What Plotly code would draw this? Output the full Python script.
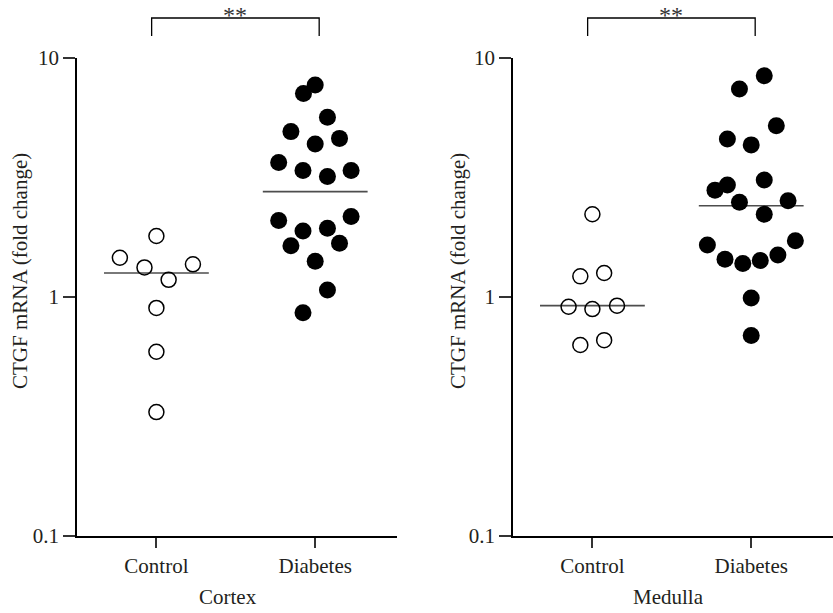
import plotly.graph_objects as go

# ---------------- data ----------------
groups = ["Control", "Diabetes"]
y_tick_vals = [0.1, 1, 10]
y_tick_text = ["0.1", "1", "10"]

cortex_control = [1.80, 1.46, 1.33, 1.37, 1.18, 0.90, 0.59, 0.33]
cortex_control_jitter = [0, -0.23, -0.075, 0.23, 0.077, 0, 0, 0]
cortex_diabetes = [7.71, 7.11, 5.65, 4.92, 4.61, 4.37, 3.65, 3.38, 3.19, 3.38,
                   2.09, 1.89, 1.94, 2.17, 1.64, 1.68, 1.41, 1.07, 0.86]
cortex_diabetes_jitter = [0, -0.074, 0.077, -0.153, 0.153, 0, -0.23, -0.077, 0.077, 0.226,
                          -0.23, -0.077, 0.077, 0.226, -0.153, 0.153, 0, 0.077, -0.077]
cortex_center = [1.26, 2.76]

medulla_control = [2.22, 1.22, 1.26, 0.91, 0.89, 0.92, 0.63, 0.66]
medulla_control_jitter = [0, -0.076, 0.074, -0.15, 0, 0.155, -0.076, 0.074]
medulla_diabetes = [8.43, 7.42, 5.21, 4.58, 4.33, 3.09, 2.94, 2.80, 2.53, 2.49,
                    2.22, 1.72, 1.65, 1.50, 1.44, 1.42, 1.38, 0.99, 0.69]
medulla_diabetes_jitter = [0.082, -0.074, 0.158, -0.15, 0, 0.082, -0.15, -0.228, 0.232, -0.074,
                           0.082, 0.278, -0.276, 0.168, -0.165, 0.057, -0.053, 0, 0]
medulla_center = [0.92, 2.41]

panel_titles = ["Cortex", "Medulla"]
y_title = "CTGF mRNA (fold change)"
sig_label = "**"

# ---------------- figure ----------------
W, H = 833, 613
FONT = "Liberation Serif, Times New Roman, serif"
TXT = "#231f20"
FS = 21

fig = go.Figure()

panels = [
    (cortex_control, cortex_control_jitter, cortex_diabetes, cortex_diabetes_jitter, cortex_center, "x", "y"),
    (medulla_control, medulla_control_jitter, medulla_diabetes, medulla_diabetes_jitter, medulla_center, "x2", "y2"),
]

for ctrl, cj, diab, dj, centers, xa, ya in panels:
    for i, c in enumerate(centers):
        fig.add_trace(go.Scatter(x=[i - 0.33, i + 0.33], y=[c, c], mode="lines",
                                 line=dict(color="#4d4d4d", width=1.6),
                                 xaxis=xa, yaxis=ya, showlegend=False, hoverinfo="skip"))
    fig.add_trace(go.Scatter(x=[0 + j for j in cj], y=ctrl, mode="markers",
                             marker=dict(symbol="circle-open", size=15, color="black",
                                         line=dict(width=1.5, color="black")),
                             xaxis=xa, yaxis=ya, showlegend=False))
    fig.add_trace(go.Scatter(x=[1 + j for j in dj], y=diab, mode="markers",
                             marker=dict(symbol="circle", size=17, color="black",
                                         line=dict(width=0)),
                             xaxis=xa, yaxis=ya, showlegend=False))

def px_x(p):
    return p / W

def px_y(p):
    return (H - p) / H

x_range = [-0.5, 1.515]
common_x = dict(range=x_range, tickvals=[0, 1], ticktext=groups, ticks="outside",
                ticklen=10, tickwidth=1.5, tickcolor="#333", showline=True,
                linecolor="black", linewidth=1.5, showgrid=False, zeroline=False,
                automargin=False,
                tickfont=dict(family=FONT, size=FS, color=TXT), fixedrange=True)
common_y = dict(type="log", range=[-1, 1], tickvals=y_tick_vals, ticktext=y_tick_text,
                ticks="outside", ticklen=12, tickwidth=1.5, tickcolor="#333",
                showline=True, linecolor="black", linewidth=1.5, showgrid=False,
                zeroline=False, automargin=False,
                tickfont=dict(family=FONT, size=FS, color=TXT),
                domain=[px_y(536), px_y(58)])

fig.update_layout(
    width=W, height=H,
    margin=dict(l=0, r=0, t=0, b=0, autoexpand=False),
    paper_bgcolor="white", plot_bgcolor="white",
    xaxis=dict(common_x, domain=[px_x(77), px_x(397)], anchor="y"),
    yaxis=dict(common_y, anchor="x"),
    xaxis2=dict(common_x, domain=[px_x(513), px_x(833)], anchor="y2"),
    yaxis2=dict(common_y, anchor="x2"),
)

annotations = []
shapes = []
for k, (xa, ya, title_x, ytitle_x) in enumerate([
        ("x", "y", 228, 20), ("x2", "y2", 668, 458)]):
    annotations.append(dict(text=panel_titles[k], x=px_x(title_x), y=px_y(597),
                            xref="paper", yref="paper", showarrow=False,
                            xanchor="center", yanchor="middle",
                            font=dict(family=FONT, size=FS, color=TXT)))
    annotations.append(dict(text=y_title, x=px_x(ytitle_x), y=px_y(271),
                            xref="paper", yref="paper", showarrow=False, textangle=-90,
                            xanchor="center", yanchor="middle",
                            font=dict(family=FONT, size=FS, color=TXT)))
    x0, x1 = -0.03, 1.025
    ytop, ybot = px_y(18), px_y(36)
    shapes.append(dict(type="path", xref=xa, yref="paper",
                       path=f"M {x0} {ybot} L {x0} {ytop} L {x1} {ytop} L {x1} {ybot}",
                       line=dict(color="black", width=1.3)))
    annotations.append(dict(text=sig_label, x=(x0 + x1) / 2, y=ytop, xref=xa, yref="paper",
                            showarrow=False, xanchor="center", yanchor="bottom", yshift=-12,
                            font=dict(family=FONT, size=24, color="#333333")))

fig.update_layout(annotations=annotations, shapes=shapes)

fig.write_html(
    "out.html",
    config={"responsive": False, "displayModeBar": False},
    post_script="document.body.style.margin='0';document.body.style.overflow='hidden';",
)
